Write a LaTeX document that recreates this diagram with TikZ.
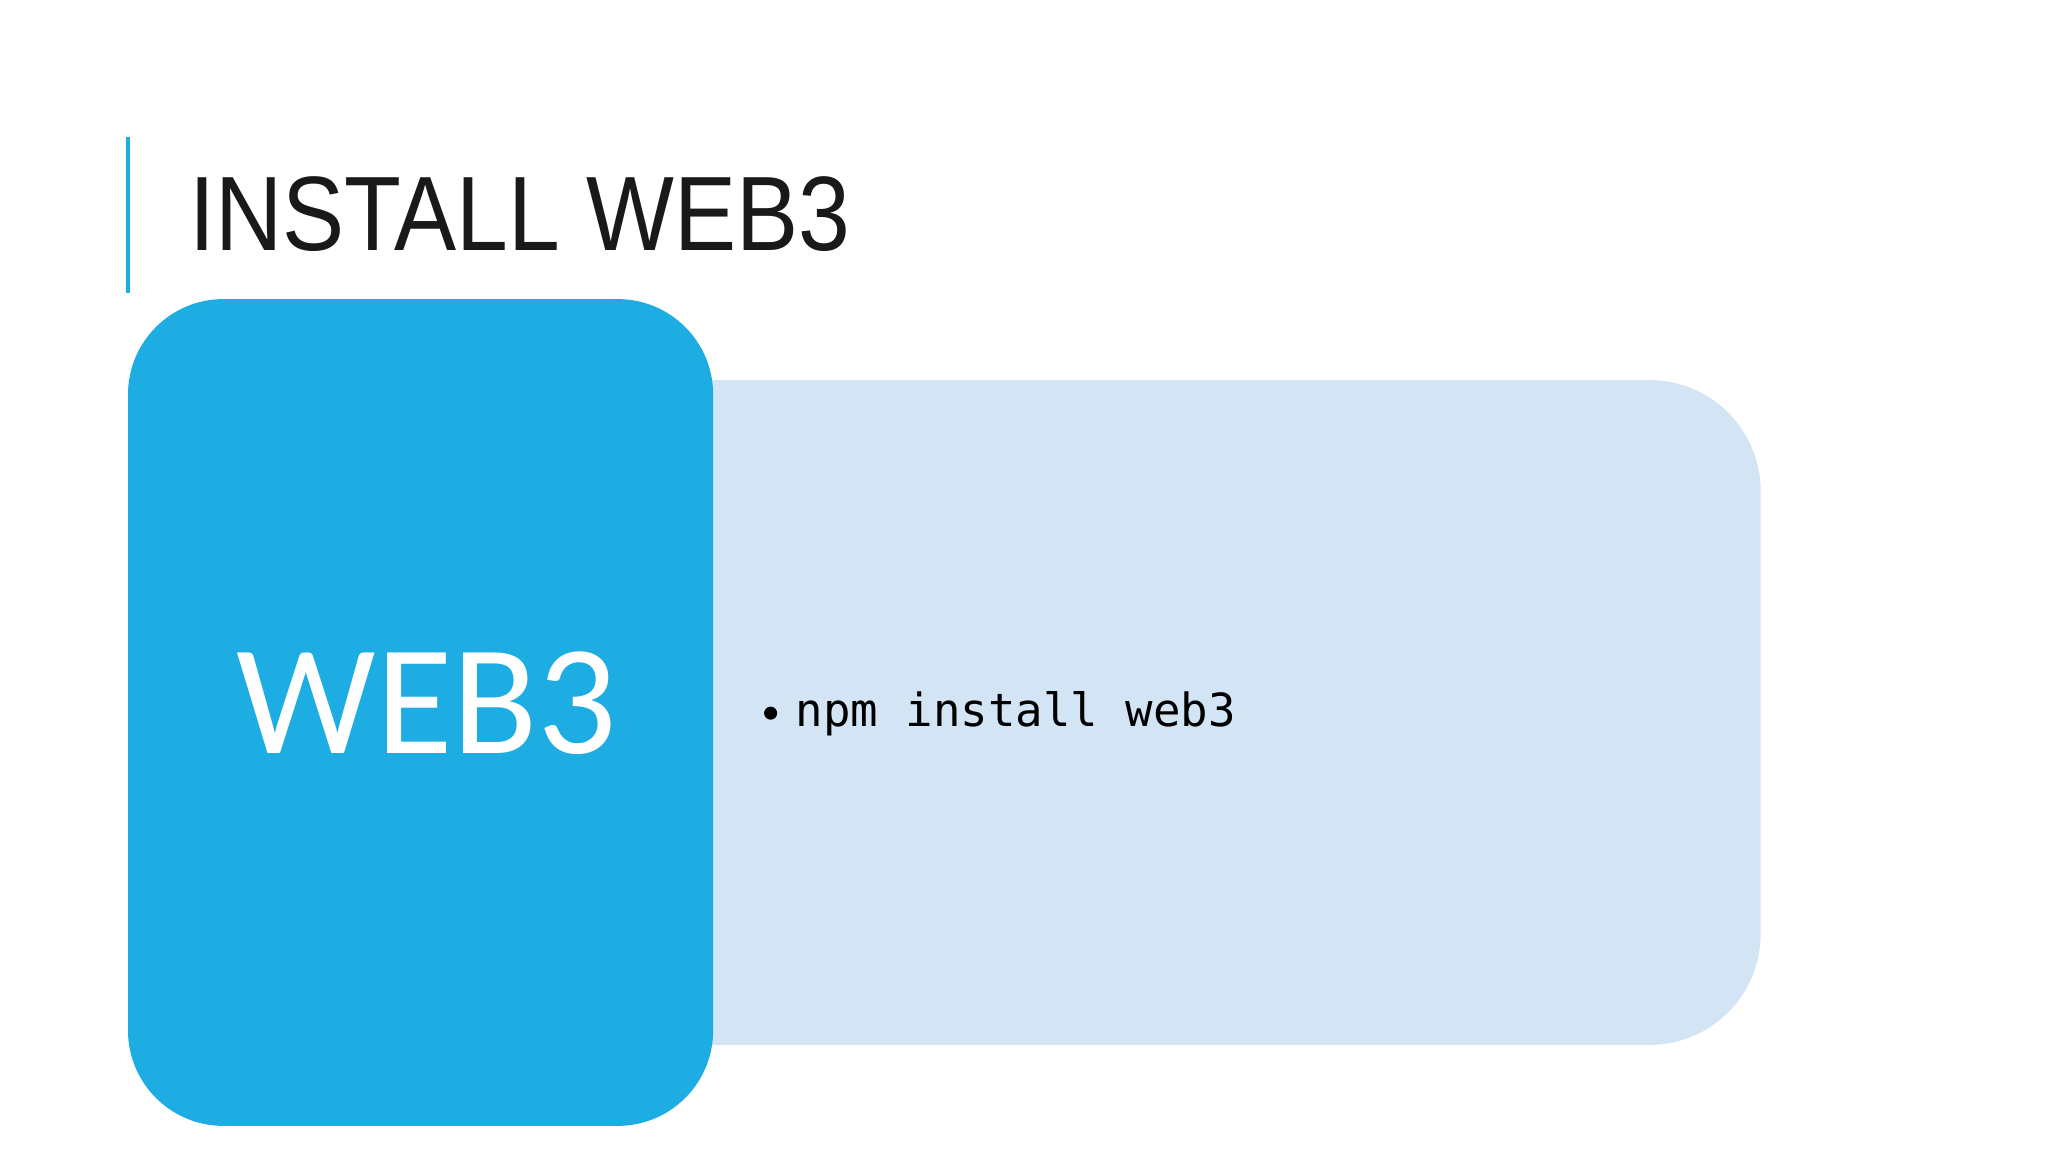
\documentclass[tikz,border=0pt]{standalone}
\usepackage{fontspec}
\setmainfont{Liberation Sans}
\newfontfamily\calib{Carlito}
\newfontfamily\monof{DejaVu Sans Mono}
\definecolor{mainblue}{HTML}{1EADE3}
\definecolor{lightblue}{HTML}{D3E5F5}
\begin{document}
\begin{tikzpicture}[x=1pt,y=-1pt,
  titletext/.style={anchor=base west,inner sep=0pt,font=\fontsize{81}{81}\selectfont,text=black!90},
  boxtext/.style={anchor=base west,inner sep=0pt}]
\useasboundingbox[fill=white] (0,0) rectangle (1568,882);
\draw[mainblue,line width=2.5pt] (98,105) coordinate (la) -- (98,224) coordinate (lb);
\node[titletext] (title) at (145,192) {\addfontfeature{FakeStretch=0.88}INSTALL WEB3};
\fill[lightblue,rounded corners=85pt] (500,291) -- (1348,291) -- (1348,800) -- (500,800) [sharp corners] -- cycle;
\fill[lightblue] (500,291) rectangle (600,800);
\fill[mainblue,rounded corners=73pt] (98,229) rectangle (546,862);
\node[boxtext,text=white,font=\calib\fontsize{120}{120}\selectfont] (web) at (181,577) {WEB3};
\fill[black] (590,546) circle (5);
\node[boxtext,font=\monof\fontsize{35}{35}\selectfont] (cmd) at (609,556) {npm install web3};
\end{tikzpicture}
\end{document}
